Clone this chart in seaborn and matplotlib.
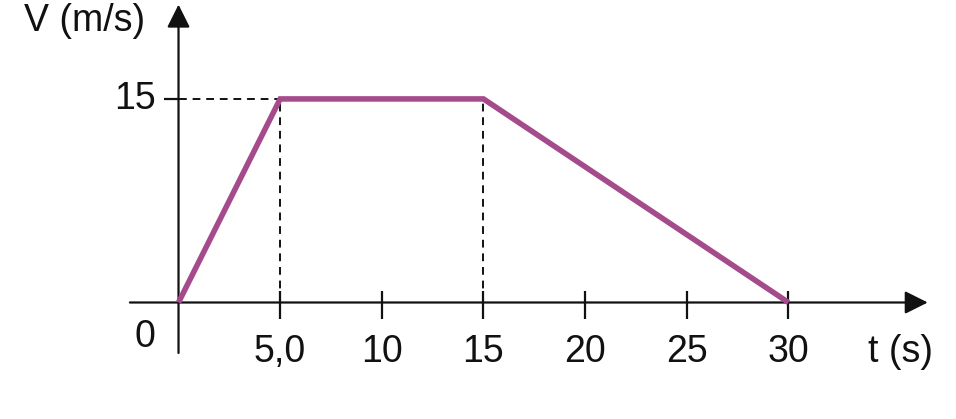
import matplotlib
matplotlib.use("Agg")
import matplotlib.pyplot as plt
import seaborn as sns
import pandas as pd

# data
t_values = [0, 5, 15, 30]
v_values = [0, 15, 15, 0]
x_ticks = [5, 10, 15, 20, 25, 30]
x_tick_labels = ["5,0", "10", "15", "20", "25", "30"]
y_ticks = [15]
y_tick_labels = ["15"]

sns.set_theme(style="white")
plt.rcParams['font.family'] = ['Liberation Sans', 'DejaVu Sans']

df = pd.DataFrame({"t": t_values, "v": v_values})

fig = plt.figure(figsize=(9.56, 4.19), dpi=100)
ax = fig.add_axes([0, 0, 1, 1])
ax.set_xlim(-8.78, 38.24)
ax.set_ylim(-8.585, 22.29)
ax.axis("off")

fs = 27
black = "#111111"
arrow = dict(arrowstyle="-|>,head_length=1.0,head_width=0.5",
             mutation_scale=14, color=black, lw=1.6, shrinkA=0, shrinkB=0)

# axes with arrows
ax.annotate("", xy=(36.85, 0), xytext=(-2.39, 0), arrowprops=arrow)
ax.annotate("", xy=(0, 21.95), xytext=(0, -3.72), arrowprops=arrow)

# x ticks
for xt in x_ticks:
    ax.plot([xt, xt], [-1.25, 0.88], color=black, lw=1.6, solid_capstyle="butt")
for xt, lab in zip(x_ticks, x_tick_labels):
    ax.text(xt, -3.65, lab, ha="center", va="center", fontsize=fs, color=black)

# y ticks
for yt, lab in zip(y_ticks, y_tick_labels):
    ax.plot([-0.7, 0], [yt, yt], color=black, lw=1.6, solid_capstyle="butt")
    ax.text(-1.1, yt, lab, ha="right", va="center", fontsize=fs, color=black)

# dashed guides
dash = (0, (4, 3))
ax.plot([0, t_values[1]], [v_values[1], v_values[1]], color=black, lw=1.4, ls=dash)
ax.plot([t_values[1], t_values[1]], [0, v_values[1]], color=black, lw=1.4, ls=dash)
ax.plot([t_values[2], t_values[2]], [0, v_values[2]], color=black, lw=1.4, ls=dash)

# data line
sns.lineplot(data=df, x="t", y="v", ax=ax, color="#A54B8C", lw=4.0,
             solid_joinstyle="miter", solid_capstyle="butt", zorder=5)
ax.set_xlim(-8.78, 38.24)
ax.set_ylim(-8.585, 22.29)
ax.axis("off")

# labels
ax.text(-1.65, -2.54, "0", ha="center", va="center", fontsize=fs, color=black)
ax.text(-1.65, 20.0, "V (m/s)", ha="right", va="baseline", fontsize=fs, color=black)
ax.text(35.5, -3.65, "t (s)", ha="center", va="center", fontsize=fs, color=black)

fig.savefig("out.png", dpi=100)
